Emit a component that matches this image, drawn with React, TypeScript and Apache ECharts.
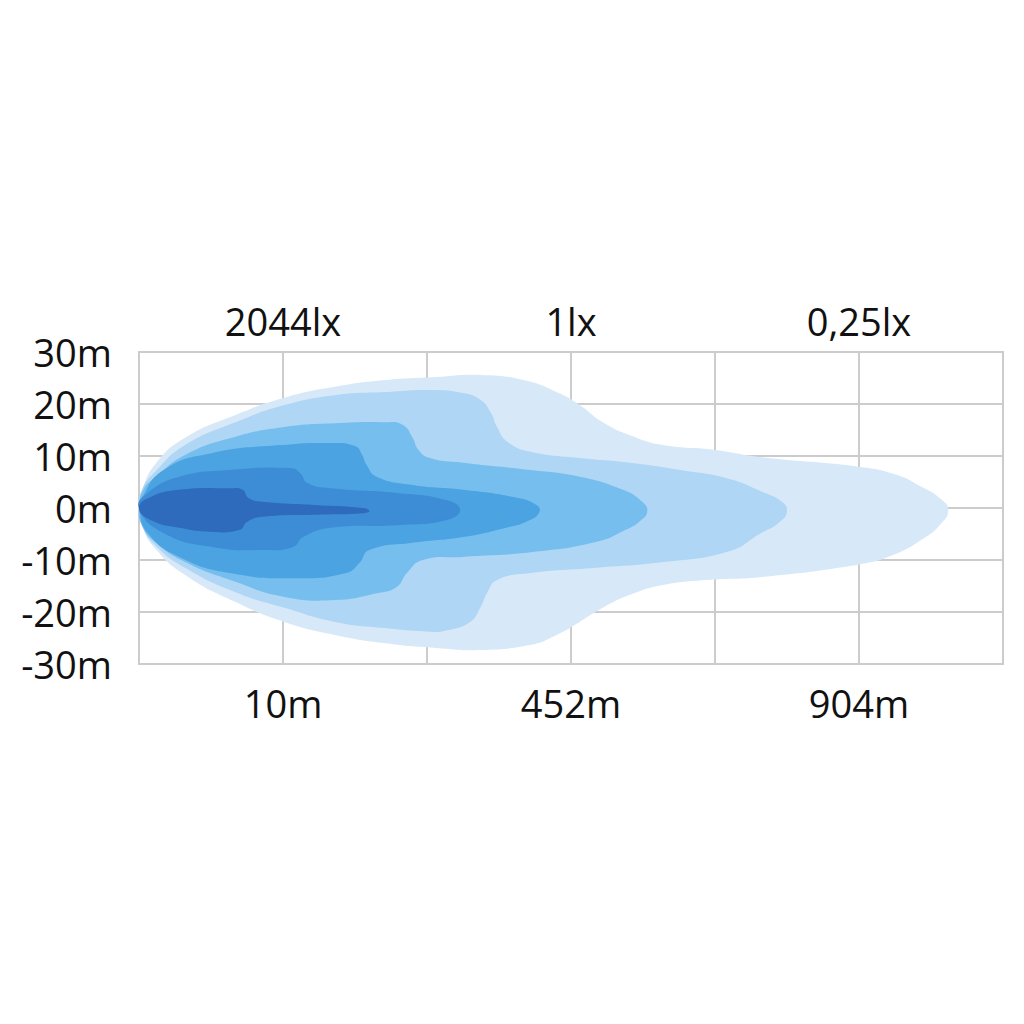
import React, { useEffect, useRef } from "react";
import * as echarts from "echarts";

// Axis labels
const bottomLabels = ["", "10m", "", "452m", "", "904m", ""];
const topLabels = ["", "2044lx", "", "1lx", "", "0,25lx", ""];
const yMin = -30;
const yMax = 30;
const yStep = 10;

// Isolux contours: [x column units (0..6), lateral metres]
const layerOuter: number[][] = [
  [0, 0], [0.02, 3.1], [0.11, 8.3], [0.32, 13.5], [0.67, 17.9], [1.01, 21.2], [1.36, 23.3],
  [1.71, 24.6], [2.06, 25.2], [2.37, 25.6], [2.67, 24.6], [2.9, 22.3], [3.06, 19.8],
  [3.22, 16.5], [3.41, 14.0], [3.64, 12.1], [3.99, 11.2], [4.31, 9.8], [5.01, 7.9],
  [5.26, 6.4], [5.44, 4.0], [5.56, 1.9], [5.62, -0.4], [5.56, -3.3], [5.44, -6.0],
  [5.24, -9.0], [5.01, -10.8], [4.31, -13.3], [3.97, -13.8], [3.64, -14.8], [3.41, -16.7],
  [3.22, -19.2], [3.06, -21.9], [2.9, -24.4], [2.72, -26.3], [2.37, -27.3], [2.06, -26.9],
  [1.71, -26.0], [1.36, -24.4], [1.01, -21.9], [0.67, -18.1], [0.32, -12.9], [0.11, -7.7],
  [0.02, -3.3],
];
const layer2: number[][] = [
  [0, 0], [0.02, 3.5], [0.11, 6.9], [0.32, 12.1], [0.67, 16.5], [1.01, 19.8], [1.36, 21.7],
  [1.71, 22.3], [2.02, 22.7], [2.25, 22.1], [2.37, 20.8], [2.44, 18.5], [2.49, 15.4],
  [2.56, 12.7], [2.72, 10.8], [3.06, 9.6], [3.41, 8.7], [3.76, 7.3], [4.1, 5.6], [4.33, 3.1],
  [4.46, 1.3], [4.5, -0.6], [4.45, -2.7], [4.31, -5.0], [4.1, -8.3], [3.64, -10.4],
  [3.18, -11.5], [2.72, -12.5], [2.49, -13.8], [2.42, -16.2], [2.37, -19.2], [2.3, -21.9],
  [2.14, -23.5], [2.02, -23.8], [1.71, -23.1], [1.36, -21.9], [1.01, -19.2], [0.67, -16.2],
  [0.32, -11.5], [0.11, -7.1], [0.02, -3.3],
];
const layer3: number[][] = [
  [0, 0], [0.03, 3.5], [0.11, 5.8], [0.32, 10.2], [0.67, 13.7], [1.01, 15.6], [1.36, 16.3],
  [1.71, 16.5], [1.83, 16.0], [1.9, 13.5], [1.94, 11.2], [2.02, 9.6], [2.25, 8.7],
  [2.72, 7.3], [3.06, 6.0], [3.36, 3.5], [3.49, 1.3], [3.53, -0.6], [3.48, -2.5],
  [3.38, -4.2], [3.18, -6.5], [2.72, -8.5], [2.25, -9.4], [1.97, -10.0], [1.86, -12.5],
  [1.79, -15.2], [1.67, -16.3], [1.36, -17.7], [1.01, -17.1], [0.67, -14.2], [0.32, -10.4],
  [0.11, -6.5], [0.02, -3.3],
];
const layer4: number[][] = [
  [0, 0], [0.01, 1.5], [0.17, 7.3], [0.51, 10.6], [0.98, 12.1], [1.33, 12.5], [1.5, 11.9],
  [1.55, 10.2], [1.58, 8.3], [1.65, 6.0], [1.9, 4.4], [2.25, 3.5], [2.6, 2.1], [2.76, 0.6],
  [2.78, -0.8], [2.7, -2.5], [2.55, -3.8], [2.25, -5.6], [1.9, -6.7], [1.6, -8.1],
  [1.53, -10.6], [1.44, -12.5], [1.1, -13.5], [0.63, -12.5], [0.28, -9.4], [0.06, -4.8],
];
const layer5: number[][] = [
  [0, 0], [0.06, 2.9], [0.28, 6.0], [0.63, 7.3], [1.05, 7.7], [1.12, 6.7], [1.17, 4.8],
  [1.33, 3.8], [1.79, 2.9], [2.14, 1.5], [2.23, -0.4], [2.14, -2.3], [1.79, -3.3],
  [1.33, -3.8], [1.14, -5.6], [1.07, -7.5], [0.86, -8.1], [0.51, -7.5], [0.17, -4.8],
];
const layerCore: number[][] = [
  [0, 0], [0.08, 2.1], [0.28, 3.5], [0.63, 3.8], [0.72, 3.5], [0.76, 1.9], [0.86, 1.2],
  [1.21, 0.6], [1.56, 0], [1.6, -0.6], [1.56, -1.0], [1.21, -1.3], [0.86, -1.7],
  [0.75, -2.7], [0.7, -4.2], [0.51, -4.6], [0.28, -3.8], [0.08, -2.3],
];

const layers = [layerOuter, layer2, layer3, layer4, layer5, layerCore];
const layerColors = ["#d7e9f8", "#afd6f4", "#76beee", "#4ca3e2", "#3c8dd6", "#2e6bbd"];

const FONT = "'Open Sans', 'Noto Sans', sans-serif";
const GRID_COLOR = "#cccccc";

export default function App() {
  const ref = useRef<HTMLDivElement>(null);

  useEffect(() => {
    if (!ref.current) return;
    const chart = echarts.init(ref.current, undefined, { renderer: "svg" });

    const series = layers.map((pts, i) => ({
      type: "custom",
      name: "layer" + i,
      xAxisIndex: 0,
      yAxisIndex: 0,
      z: 2 + i,
      silent: true,
      data: pts,
      renderItem: (params: any, api: any) => {
        if (params.dataIndex !== 0) return null;
        const points = pts.map((p) => api.coord(p));
        return {
          type: "polygon",
          shape: { points, smooth: 0.5 },
          style: { fill: layerColors[i], stroke: null },
        };
      },
    }));

    chart.setOption({
      animation: false,
      backgroundColor: "#ffffff",
      grid: {
        left: 139,
        right: 21,
        top: 352,
        bottom: 360,
        show: true,
        borderColor: GRID_COLOR,
        borderWidth: 2,
        backgroundColor: "transparent",
      },
      xAxis: [
        {
          type: "value",
          position: "bottom",
          min: 0,
          max: 6,
          interval: 1,
          axisLine: { show: false },
          axisTick: { show: false },
          splitLine: { show: true, lineStyle: { color: GRID_COLOR, width: 2 } },
          axisLabel: {
            formatter: (v: number) => bottomLabels[Math.round(v)] || "",
            color: "#111111",
            fontFamily: FONT,
            fontSize: 38,
            margin: 20,
          },
        },
        {
          type: "value",
          position: "top",
          min: 0,
          max: 6,
          interval: 1,
          axisLine: { show: false },
          axisTick: { show: false },
          splitLine: { show: false },
          axisLabel: {
            formatter: (v: number) => topLabels[Math.round(v)] || "",
            color: "#111111",
            fontFamily: FONT,
            fontSize: 38,
            margin: 12,
          },
        },
      ],
      yAxis: {
        type: "value",
        min: yMin,
        max: yMax,
        interval: yStep,
        axisLine: { show: false },
        axisTick: { show: false },
        splitLine: { show: true, lineStyle: { color: GRID_COLOR, width: 2 } },
        axisLabel: {
          formatter: (v: number) => `${v}m`,
          color: "#111111",
          fontFamily: FONT,
          fontSize: 38,
          margin: 27,
        },
      },
      series,
    });

    return () => chart.dispose();
  }, []);

  return (
    <div
      ref={ref}
      style={{ position: "fixed", left: 0, top: 0, width: 1024, height: 1024, background: "#fff" }}
    />
  );
}
